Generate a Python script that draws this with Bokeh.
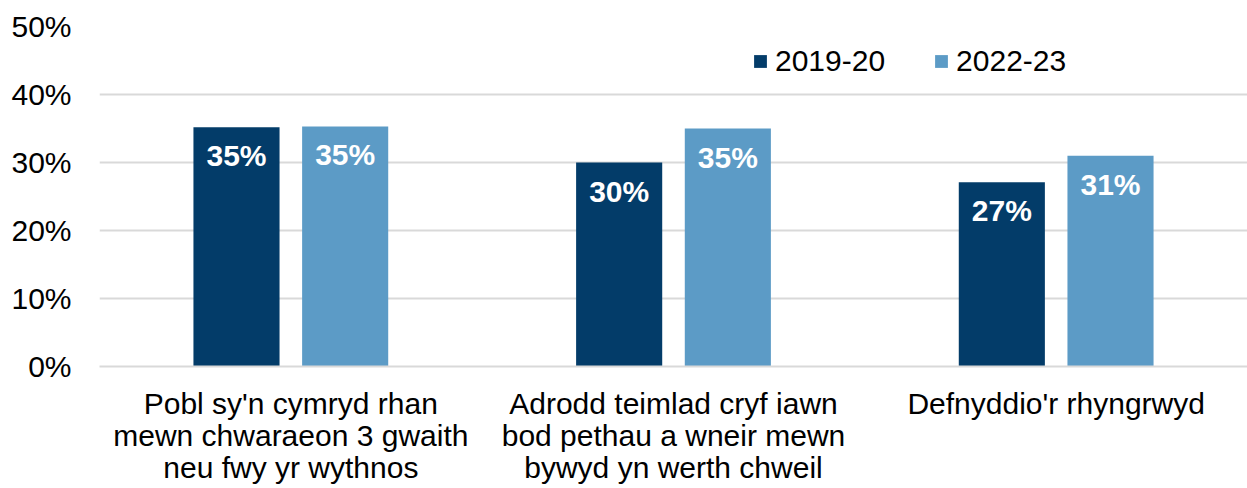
from bokeh.plotting import figure
from bokeh.models import ColumnDataSource, FactorRange, Range1d, FixedTicker, PrintfTickFormatter, Legend, LegendItem, LabelSet
from bokeh.transform import dodge
from bokeh.core.properties import value
from bokeh.embed import file_html
from bokeh.resources import INLINE

categories = [
    "Pobl sy'n cymryd rhan\nmewn chwaraeon 3 gwaith\nneu fwy yr wythnos",
    "Adrodd teimlad cryf iawn\nbod pethau a wneir mewn\nbywyd yn werth chweil",
    "Defnyddio'r rhyngrwyd",
]
series_names = ["2019-20", "2022-23"]
values_2019 = [35.2, 30.0, 27.1]
values_2022 = [35.3, 35.0, 31.0]
labels_2019 = ["35%", "30%", "27%"]
labels_2022 = ["35%", "35%", "31%"]
y_ticks = [0, 10, 20, 30, 40, 50]

DARK = "#033C69"
LIGHT = "#5C9BC6"
FONT = "Liberation Sans"

src = ColumnDataSource(dict(cat=categories, v1=values_2019, v2=values_2022, l1=labels_2019, l2=labels_2022))

p = figure(width=1247, height=488, x_range=FactorRange(*categories), y_range=Range1d(0, 50),
           output_backend="svg", toolbar_location=None,
           min_border_left=99, min_border_right=0, min_border_top=26, min_border_bottom=122)
p.outline_line_color = None

off = 0.142
w = 0.225
r1 = p.vbar(x=dodge("cat", -off, range=p.x_range), top="v1", width=w, source=src, color=DARK, line_color=None)
r2 = p.vbar(x=dodge("cat", off, range=p.x_range), top="v2", width=w, source=src, color=LIGHT, line_color=None)

for col, lab, o in (("v1", "l1", -off), ("v2", "l2", off)):
    ls = LabelSet(x=dodge("cat", o, range=p.x_range), y=col, text=lab, source=src,
                  text_align="center", text_baseline="top", y_offset=-12,
                  text_color="white", text_font=value(FONT), text_font_style="bold",
                  text_font_size="30px")
    p.add_layout(ls)

p.xgrid.grid_line_color = None
p.ygrid.grid_line_color = "#D9D9D9"
p.ygrid.grid_line_width = 2
p.ygrid.ticker = FixedTicker(ticks=y_ticks)

p.yaxis.ticker = FixedTicker(ticks=y_ticks)
p.yaxis.formatter = PrintfTickFormatter(format="%d%%")
p.yaxis.axis_line_color = None
p.yaxis.major_tick_line_color = None
p.yaxis.minor_tick_line_color = None
p.yaxis.major_label_standoff = 22
p.yaxis.major_label_text_font = FONT
p.yaxis.major_label_text_font_size = "30px"
p.yaxis.major_label_text_color = "#000000"

p.xaxis.axis_line_color = "#D9D9D9"
p.xaxis.axis_line_width = 2
p.xaxis.major_tick_line_color = None
p.xaxis.minor_tick_line_color = None
p.xaxis.major_label_standoff = 14
p.xaxis.major_label_text_font = FONT
p.xaxis.major_label_text_font_size = "30px"
p.xaxis.major_label_text_color = "#000000"
p.xaxis.major_label_text_line_height = 0.97

legend = Legend(items=[LegendItem(label=series_names[0], renderers=[r1]),
                       LegendItem(label=series_names[1], renderers=[r2])],
                orientation="horizontal", location=(653, 288),
                glyph_width=16, glyph_height=16, label_standoff=7, spacing=48,
                padding=0, margin=0, border_line_color=None, background_fill_alpha=0,
                label_text_font=FONT, label_text_font_size="30px", label_text_color="#000000")
p.add_layout(legend, "center")

open("out.html", "w").write(file_html(p, INLINE))
